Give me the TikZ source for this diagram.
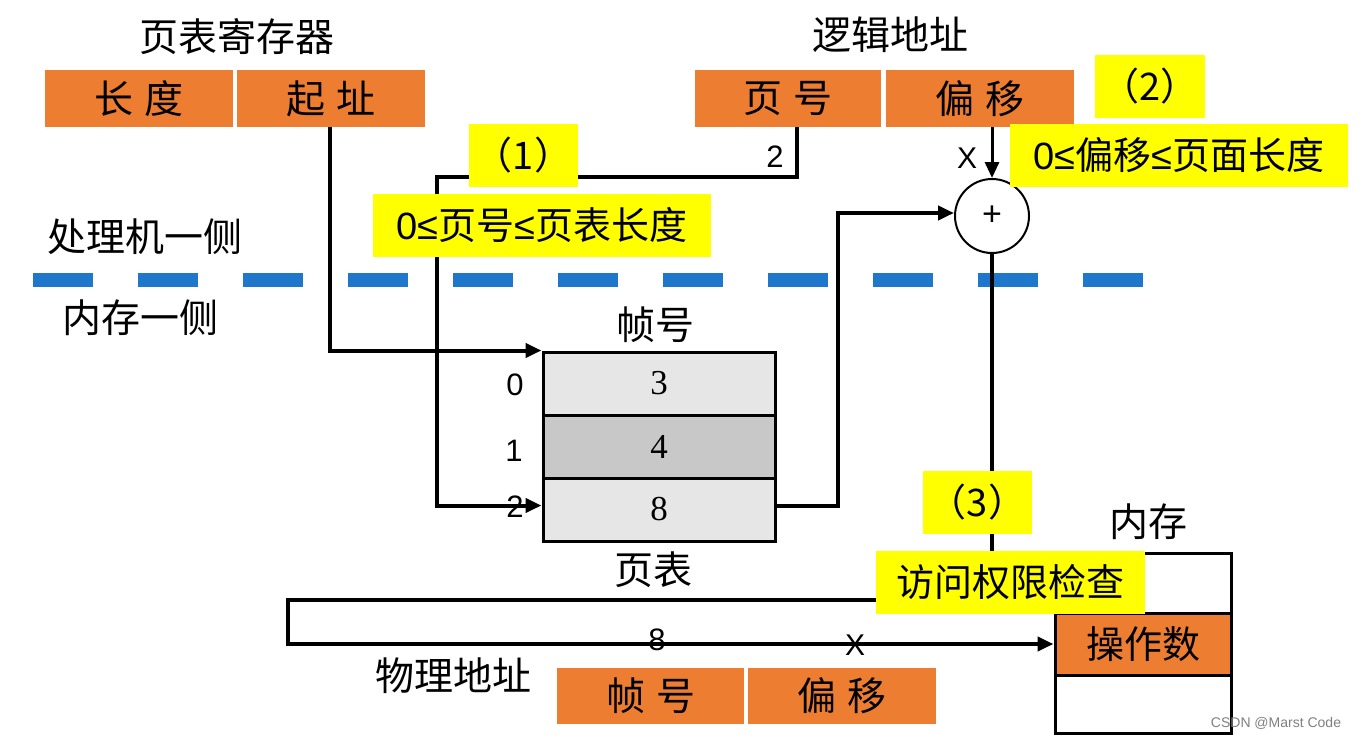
\documentclass[tikz,border=0pt]{standalone}
\usepackage{fontspec}
\setmainfont{Liberation Sans}
\newfontfamily\cjk{Noto Sans CJK SC}
\newfontfamily\tms{Liberation Serif}
\newfontfamily\lat{Liberation Sans}
\usetikzlibrary{arrows.meta}
\definecolor{org}{RGB}{237,125,49}
\definecolor{ylw}{RGB}{255,255,0}
\definecolor{dblue}{RGB}{31,119,204}
\definecolor{lgray}{RGB}{230,230,230}
\definecolor{mgray}{RGB}{200,200,200}
\newcommand\myfs[1]{\fontsize{#1}{#1}\selectfont}
\newcommand\myle{{\lat ≤}}
\begin{document}
\begin{tikzpicture}[x=1pt,y=-1pt,
  obox/.style={fill=org, draw=none, minimum width=188pt, minimum height=57pt, inner sep=0pt, font=\cjk\myfs{39}},
  ybox/.style={fill=ylw, draw=none, minimum height=63pt, inner sep=0pt, font=\cjk\myfs{38}},
  lbl/.style={inner sep=0pt, font=\cjk\myfs{39}},
  num/.style={inner sep=0pt, font=\myfs{31}},
  cell/.style={draw, line width=3pt, minimum width=232pt, minimum height=63pt, inner sep=0pt, font=\tms\myfs{35}},
  mcell/.style={draw, line width=3pt, minimum width=176pt, inner sep=0pt, font=\cjk\myfs{38}},
  arr/.style={line width=4pt, -{Triangle[length=16pt,width=14pt]}}
]
\useasboundingbox (0,0) rectangle (1362,739);
\fill[white] (0,0) rectangle (1362,739);

% titles
\node[lbl] (treg) at (237,37) {页表寄存器};
\node[lbl] (tlog) at (890,35) {逻辑地址};
\node[lbl] (tcpu) at (145,237) {处理机一侧};
\node[lbl] (tmem) at (140,318) {内存一侧};
\node[lbl] (tfn) at (655,325) {帧号};
\node[lbl] (tpt) at (653,570) {页表};
\node[lbl] (tram) at (1148,522) {内存};
\node[lbl] (tphy) at (453,676) {物理地址};

% register boxes
\node[obox] (lenbox) at (139,98.5) {长\hspace{11pt}度};
\node[obox] (startbox) at (331,98.5) {起\hspace{11pt}址};
\node[obox, minimum width=186pt] (pnbox) at (788,98.5) {页\hspace{11pt}号};
\node[obox] (offbox) at (980,98.5) {偏\hspace{11pt}移};
\node[obox, minimum width=187pt, minimum height=56pt] (fnbox) at (650.5,696) {帧\hspace{11pt}号};
\node[obox, minimum height=56pt] (poffbox) at (842,696) {偏\hspace{11pt}移};

% dashed separator
\draw[dblue, line width=14pt, dash pattern=on 60pt off 45pt] (33,280) -- (1143,280);

% page table
\node[cell, fill=lgray] (row0) at (659,383.5) {3};
\node[cell, fill=mgray] (row1) at (659,446.5) {4};
\node[cell, fill=lgray] (row2) at (659,509.5) {8};
\node[num] (i0) at (515,385) {0};
\node[num] (i1) at (514,451) {1};
\node[num] (i2) at (515,507) {2};

% memory
\node[mcell, minimum height=60pt] (memtop) at (1143,583) {};
\node[mcell, fill=org, minimum height=62pt] (memop) at (1143,644) {操作数};
\node[mcell, minimum height=58pt] (membot) at (1143,704) {};

% adder
\node[circle, draw, line width=2pt, minimum size=74pt, inner sep=0pt, font=\myfs{34}] (plus) at (992,216) {+};

% connectors
\coordinate (c1) at (437,177);
\coordinate (c2) at (838,213);
\coordinate (c3) at (288,600);
\draw[arr] ([xshift=-1pt]startbox.south) |- (row0.north west);
\draw[arr] ([xshift=9pt]pnbox.south) |- (c1) |- ([yshift=4pt]row2.west);
\draw[arr, line width=3pt] ([xshift=12pt]offbox.south) -- (plus.north);
\draw[arr] ([yshift=4pt]row2.east) -| (c2) -- ([yshift=3pt]plus.west);
\draw[arr] (plus.south) |- (c3) |- (memop.west);

% yellow notes
\node[ybox, minimum width=109pt] (y1) at (523.5,155.5) {（1）};
\node[ybox, minimum width=338pt] (yc1) at (542,225.5) {{\lat 0}\myle 页号\myle 页表长度};
\node[ybox, minimum width=110pt] (y2) at (1150,86.5) {（2）};
\node[ybox, minimum width=338pt] (yc2) at (1179,155.5) {{\lat 0}\myle 偏移\myle 页面长度};
\node[ybox, minimum width=109pt] (y3) at (977.5,502.5) {（3）};
\node[ybox, minimum width=269pt] (yc3) at (1010.5,582.5) {访问权限检查};

% small labels
\node[num] (l2) at (775,157) {2};
\node[num, font=\myfs{30}] (lx) at (967,158) {X};
\node[num] (l8) at (657,640) {8};
\node[num, font=\myfs{30}] (lx2) at (855,645) {X};
\node[inner sep=0pt, text=gray, font=\myfs{14}] (wm) at (1276,723) {CSDN @Marst Code};
\end{tikzpicture}
\end{document}
